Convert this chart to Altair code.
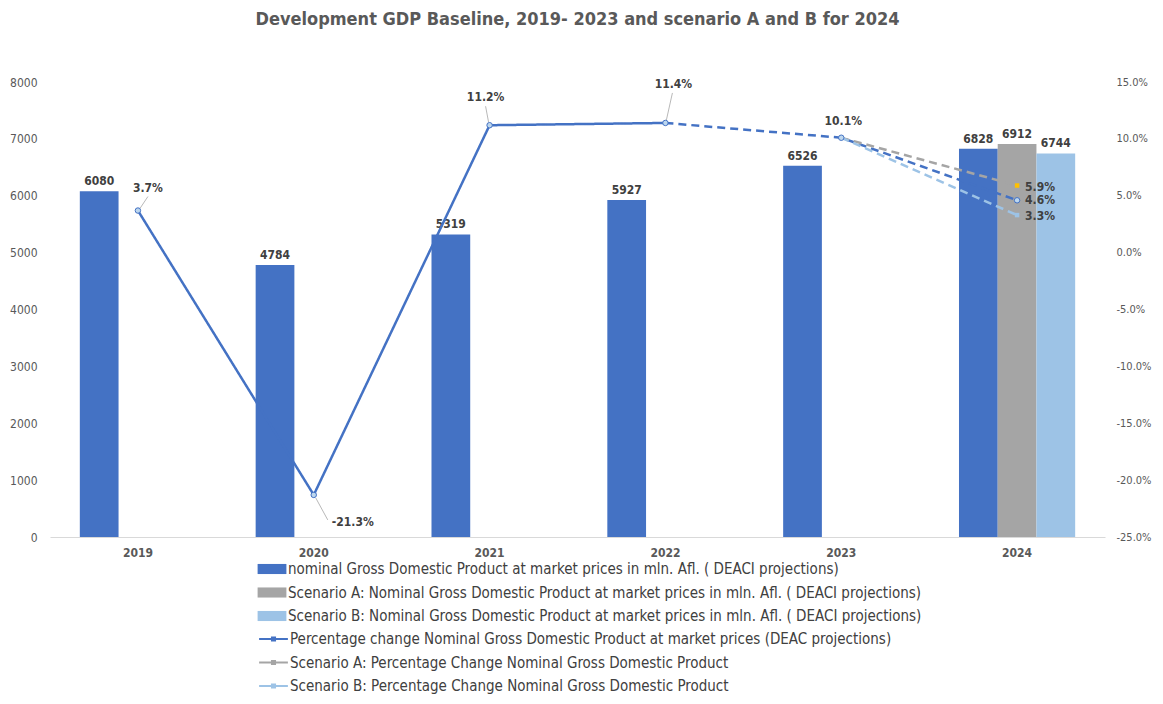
import altair as alt
import pandas as pd

years = ["2019", "2020", "2021", "2022", "2023", "2024"]

bar_names = [
    "nominal Gross Domestic Product at market prices in mln. Afl. ( DEACI projections)",
    "Scenario A: Nominal Gross Domestic Product at market prices in mln. Afl. ( DEACI projections)",
    "Scenario B: Nominal Gross Domestic Product at market prices in mln. Afl. ( DEACI projections)",
]
line_names = [
    "Percentage change Nominal Gross Domestic Product at market prices (DEAC projections)",
    "Scenario A: Percentage Change Nominal Gross Domestic Product",
    "Scenario B: Percentage Change Nominal Gross Domestic Product",
]

gdp_base = [6080, 4784, 5319, 5927, 6526, 6828]
gdp_a = [None, None, None, None, None, 6912]
gdp_b = [None, None, None, None, None, 6744]

pct_base = [0.037, -0.213, 0.112, 0.114, 0.101, 0.046]
pct_a_years = ["2023", "2024"]
pct_a = [0.101, 0.059]
pct_b_years = ["2023", "2024"]
pct_b = [0.101, 0.033]

bar_colors = ["#4472C4", "#A5A5A5", "#9DC3E6"]
line_colors = ["#4472C4", "#A5A5A5", "#9DC3E6"]

FONT = "Liberation Sans Narrow, DejaVu Sans Condensed, sans-serif"
TXT = "#404040"
AX = "#595959"
PCT_EXPR = "replace(format(datum.pct, '.1%'), '\u2212', '-')"

# ---------- data tables ----------
bar_rows = []
for name, vals in zip(bar_names, [gdp_base, gdp_a, gdp_b]):
    for y, v in zip(years, vals):
        if v is not None:
            bar_rows.append({"year": y, "series": name, "gdp": v})
bars_df = pd.DataFrame(bar_rows)

line_rows = []
for i, (y, v) in enumerate(zip(years, pct_base)):
    if i <= 3:
        line_rows.append({"year": y, "series": line_names[0], "part": "solid", "pct": v})
    if i >= 3:
        line_rows.append({"year": y, "series": line_names[0], "part": "dashed", "pct": v})
for y, v in zip(pct_a_years, pct_a):
    line_rows.append({"year": y, "series": line_names[1], "part": "dashed", "pct": v})
for y, v in zip(pct_b_years, pct_b):
    line_rows.append({"year": y, "series": line_names[2], "part": "dashed", "pct": v})
lines_df = pd.DataFrame(line_rows)

pts_df = pd.DataFrame(
    [{"year": y, "series": line_names[0], "pct": v} for y, v in zip(years, pct_base)]
    + [{"year": "2024", "series": line_names[1], "pct": pct_a[-1]},
       {"year": "2024", "series": line_names[2], "pct": pct_b[-1]}]
)

x_scale = alt.Scale(type="band", domain=years, paddingInner=0, paddingOuter=0)
x_enc = alt.X("year:N", scale=x_scale,
              axis=alt.Axis(title=None, labelAngle=0, ticks=False, domainColor="#D9D9D9",
                            domainWidth=1, labelFont=FONT, labelFontSize=12, labelFontWeight="bold",
                            labelColor=AX, labelPadding=10))

y_left = alt.Y("gdp:Q", scale=alt.Scale(domain=[0, 8000], nice=False),
               axis=alt.Axis(title=None, values=list(range(0, 8001, 1000)), grid=False, domain=False,
                             ticks=False, labelFont=FONT, labelFontSize=12, labelColor=AX,
                             labelPadding=13, format="d"))

y_right = alt.Y("pct:Q", scale=alt.Scale(domain=[-0.25, 0.15], nice=False),
                axis=alt.Axis(title=None, orient="right",
                              values=[-0.25, -0.2, -0.15, -0.1, -0.05, 0, 0.05, 0.1, 0.15],
                              grid=False, domain=False, ticks=False, labelFont=FONT,
                              labelFontSize=11, labelColor=AX, labelPadding=11,
                              labelExpr="replace(format(datum.value, '.1%'), '\u2212', '-')"))

xoff = alt.XOffset("series:N", scale=alt.Scale(domain=bar_names, paddingOuter=0.77, paddingInner=0),
                   sort=bar_names)

bars = alt.Chart(bars_df).mark_bar().encode(
    x=x_enc,
    xOffset=xoff,
    y=y_left,
    color=alt.Color("series:N", scale=alt.Scale(domain=bar_names, range=bar_colors), sort=bar_names,
                    legend=alt.Legend(orient="none", legendX=210, legendY=475, title=None,
                                      symbolType="M-1.2,-0.42H1.2V0.42H-1.2Z", symbolSize=576,
                                      symbolStrokeWidth=0, symbolOpacity=1,
                                      labelFont=FONT, labelFontSize=15, labelColor=TXT,
                                      labelOffset=4, rowPadding=3.5, labelLimit=1000)),
)

bar_labels = alt.Chart(bars_df).mark_text(
    dy=-6, baseline="alphabetic", font=FONT, fontSize=12, fontWeight="bold", color=TXT
).encode(x=x_enc, xOffset=xoff, y=y_left, text=alt.Text("gdp:Q", format="d"))

bar_layer = alt.layer(bars, bar_labels)

lines = alt.Chart(lines_df).mark_line(strokeWidth=2.5).encode(
    x=x_enc,
    y=y_right,
    stroke=alt.Stroke("series:N", scale=alt.Scale(domain=line_names, range=line_colors),
                      sort=line_names,
                      legend=alt.Legend(orient="none", legendX=210, legendY=543.5, title=None,
                                        symbolType="M-1.2,0H1.2M-0.12,-0.12H0.12V0.12H-0.12Z",
                                        symbolSize=576, symbolStrokeWidth=2.2,
                                        labelFont=FONT, labelFontSize=15, labelColor=TXT,
                                        labelOffset=3, rowPadding=1.5, labelLimit=1000)),
    strokeDash=alt.StrokeDash("part:N", scale=alt.Scale(domain=["solid", "dashed"],
                                                        range=[[1, 0], [8, 5]]), legend=None),
    detail="part:N",
)

base_pts = alt.Chart(pts_df).transform_filter(alt.datum.series == line_names[0]).mark_point(
    shape="circle", size=30, filled=True, fill="#BDD7EE", stroke="#4472C4", strokeWidth=1, opacity=1
).encode(x=x_enc, y=y_right)

a_pt = alt.Chart(pts_df).transform_filter(alt.datum.series == line_names[1]).mark_point(
    shape="square", size=20, filled=True, color="#FFC000", opacity=1
).encode(x=x_enc, y=y_right)

b_pt = alt.Chart(pts_df).transform_filter(alt.datum.series == line_names[2]).mark_point(
    shape="square", size=20, filled=True, color="#9DC3E6", opacity=1
).encode(x=x_enc, y=y_right)


def pct_label(series, year, dx, dy, align="center"):
    return alt.Chart(pts_df).transform_filter(
        (alt.datum.series == series) & (alt.datum.year == year)
    ).transform_calculate(lbl=PCT_EXPR).mark_text(
        dx=dx, dy=dy, align=align, baseline="middle", font=FONT, fontSize=12,
        fontWeight="bold", color=TXT).encode(x=x_enc, y=y_right, text="lbl:N")


def leader(series, year, x1, y1, x2, y2):
    return alt.Chart(pts_df).transform_filter(
        (alt.datum.series == series) & (alt.datum.year == year)
    ).mark_rule(color="#A6A6A6", strokeWidth=0.8, xOffset=x1, yOffset=y1,
                x2Offset=x2, y2Offset=y2).encode(
        x=x_enc, y=y_right, x2="year:N", y2="pct:Q")


L0 = line_names[0]
labels = [
    pct_label(L0, "2019", 10, -23),
    pct_label(L0, "2020", 39, 27),
    pct_label(L0, "2021", -4, -28),
    pct_label(L0, "2022", 8, -39),
    pct_label(L0, "2023", 2, -17),
    pct_label(L0, "2024", 8, 0, "left"),
    pct_label(line_names[1], "2024", 8, 1, "left"),
    pct_label(line_names[2], "2024", 8, 1, "left"),
]
leaders = [
    leader(L0, "2019", 2, -2, 10, -14),
    leader(L0, "2020", 2, 3, 14, 25),
    leader(L0, "2021", -1, -3, -4, -19),
    leader(L0, "2022", 1, -3, 7, -30),
]

line_layer = alt.layer(*leaders, lines, base_pts, a_pt, b_pt, *labels)

chart = alt.layer(bar_layer, line_layer).resolve_scale(
    y="independent", color="independent", stroke="independent"
).properties(
    width=1055,
    height=455,
    padding={"left": 42, "top": 74, "right": 50, "bottom": 159},
    autosize=alt.AutoSizeParams(type="none"),
    title=alt.TitleParams(
        "Development GDP Baseline, 2019- 2023 and scenario A and B for 2024",
        font=FONT, fontSize=18, fontWeight="bold", color=AX, anchor="middle", offset=47,
    ),
).configure(background="white").configure_view(strokeWidth=0, stroke="transparent")

chart.save("out.html", embed_options={"renderer": "svg", "actions": False})
